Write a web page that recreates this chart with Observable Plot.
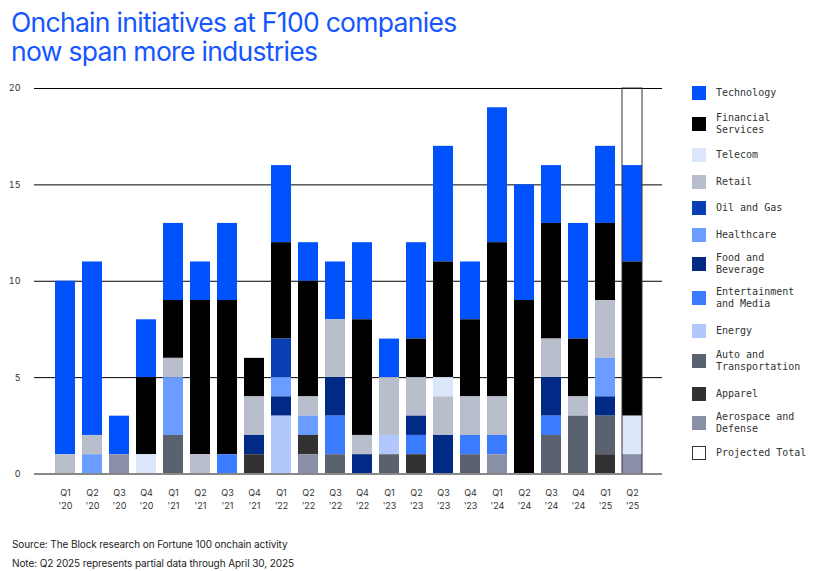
<!DOCTYPE html>
<html><head><meta charset="utf-8">
<script src="https://cdn.jsdelivr.net/npm/d3@7"></script>
<script src="https://cdn.jsdelivr.net/npm/@observablehq/plot@0.6"></script>
<style>
body{margin:0;background:#fff;}
#wrap{position:relative;width:820px;height:571px;overflow:hidden;font-family:Inter,"Liberation Sans",sans-serif;}
.tl{position:absolute;left:11px;font-size:26.5px;line-height:28px;height:28px;color:#1556FF;letter-spacing:-0.7px;white-space:nowrap;}
#chart{position:absolute;left:0;top:70px;}
.leg{position:absolute;left:692px;display:flex;align-items:center;transform:translateY(-50%);}
.sw{width:14px;height:14px;flex:none;box-sizing:border-box;}
.lt{margin-left:10px;font-family:"DejaVu Sans Mono",monospace;font-size:10px;line-height:12px;color:#333;white-space:pre;}
.cap{position:absolute;left:12px;font-size:10px;color:#222;white-space:nowrap;letter-spacing:-0.1px;}
</style></head>
<body>
<div id="wrap">
  <div class="tl" style="top:8px">Onchain initiatives at F100 companies</div>
  <div class="tl" style="top:37px">now span more industries</div>
  <div id="chart"></div>
  <div id="legend"></div>
  <div class="cap" style="top:538px">Source: The Block research on Fortune 100 onchain activity</div>
  <div class="cap" style="top:557px">Note: Q2 2025 represents partial data through April 30, 2025</div>
</div>
<script>
const quarters = ["Q1 '20","Q2 '20","Q3 '20","Q4 '20","Q1 '21","Q2 '21","Q3 '21","Q4 '21","Q1 '22","Q2 '22","Q3 '22","Q4 '22","Q1 '23","Q2 '23","Q3 '23","Q4 '23","Q1 '24","Q2 '24","Q3 '24","Q4 '24","Q1 '25","Q2 '25"];

const industries = ["Technology","Financial Services","Telecom","Retail","Oil and Gas","Healthcare","Food and Beverage","Entertainment and Media","Energy","Auto and Transportation","Apparel","Aerospace and Defense"];
const legendLabels = ["Technology","Financial\nServices","Telecom","Retail","Oil and Gas","Healthcare","Food and\nBeverage","Entertainment\nand Media","Energy","Auto and\nTransportation","Apparel","Aerospace and\nDefense"];
const colors = ["#0052FF","#000000","#DCE6FB","#B8BECB","#0A3FB3","#6B9CFF","#002A86","#3B7BFF","#B2C7FB","#5B626F","#323232","#8A8FA8"];

const technology    = [9,9,2,3,4,2,4,0,4,2,3,4,2,5,6,3,7,6,3,6,4,5];
const financial     = [0,0,0,4,3,8,8,2,5,6,0,6,0,2,6,4,8,9,6,3,4,8];
const telecom       = [0,0,0,1,0,0,0,0,0,0,0,0,0,0,1,0,0,0,0,0,0,2];
const retail        = [1,1,0,0,1,1,0,2,0,1,3,1,3,2,2,2,2,0,2,1,3,0];
const oilGas        = [0,0,0,0,0,0,0,0,2,0,0,0,0,0,0,0,0,0,0,0,0,0];
const healthcare    = [0,1,0,0,3,0,0,0,1,1,0,0,0,0,0,0,0,0,0,0,2,0];
const foodBeverage  = [0,0,0,0,0,0,0,1,1,0,2,1,0,1,2,0,0,0,2,0,1,0];
const entertainment = [0,0,0,0,0,0,1,0,0,0,2,0,0,1,0,1,1,0,1,0,0,0];
const energy        = [0,0,0,0,0,0,0,0,3,0,0,0,1,0,0,0,0,0,0,0,0,0];
const auto          = [0,0,0,0,2,0,0,0,0,0,1,0,1,0,0,1,0,0,2,3,2,0];
const apparel       = [0,0,0,0,0,0,0,1,0,1,0,0,0,1,0,0,0,0,0,0,1,0];
const aerospace     = [0,0,1,0,0,0,0,0,0,1,0,0,0,0,0,0,1,0,0,0,0,1];

const projectedQuarters = ["Q2 '25"];
const projectedTotals = [20];
const yTicks = [0,5,10,15,20];

const series = [technology,financial,telecom,retail,oilGas,healthcare,foodBeverage,entertainment,energy,auto,apparel,aerospace];
const rows = [];
industries.forEach((ind,i)=>quarters.forEach((q,j)=>{ if(series[i][j]>0) rows.push({quarter:q, industry:ind, value:series[i][j]}); }));
const projected = projectedQuarters.map((q,i)=>({quarter:q,total:projectedTotals[i]}));
const stackOrder = industries.slice().reverse();

const chart = Plot.plot({
  width: 680, height: 450,
  marginTop: 18, marginBottom: 46.5, marginLeft: 34, marginRight: 18,
  style: {fontFamily: "Inter, 'Liberation Sans', sans-serif", fontSize: "9px", color: "#333", background: "transparent"},
  x: {domain: quarters, paddingInner: 0.274, paddingOuter: 0.274, insetLeft: 7.5, insetRight: 7, label: null},
  y: {domain: [0,20], label: null},
  color: {domain: industries, range: colors},
  marks: [
    Plot.ruleY(yTicks.filter(d=>d>0), {stroke: "#000", strokeWidth: 1}),
    Plot.barY(rows, Plot.stackY({order: stackOrder}, {x: "quarter", y: "value", fill: "industry"})),
    Plot.barY(projected, {x: "quarter", y: "total", fill: "none", stroke: "#333", strokeWidth: 1}),
    Plot.ruleY([0], {stroke: "#888", strokeWidth: 2}),
    Plot.axisY({ticks: yTicks, tickSize: 0, tickPadding: 14, label: null}),
    Plot.axisX({tickSize: 0, tickPadding: 13, lineHeight: 1.45, tickFormat: d => d.replace(" ", "\n"), label: null})
  ]
});
document.getElementById("chart").appendChild(chart);

const legendCenters = [93,124,155,182,208,235,264,298,331,361,394,423,453];
const leg = document.getElementById("legend");
legendLabels.concat(["Projected Total"]).forEach((lab,i)=>{
  const d = document.createElement("div");
  d.className = "leg";
  d.style.top = legendCenters[i] + "px";
  const sw = document.createElement("div");
  sw.className = "sw";
  if (i < colors.length) sw.style.background = colors[i];
  else sw.style.border = "1.5px solid #333";
  const t = document.createElement("div");
  t.className = "lt";
  t.textContent = lab;
  d.appendChild(sw); d.appendChild(t);
  leg.appendChild(d);
});
</script>
</body></html>
